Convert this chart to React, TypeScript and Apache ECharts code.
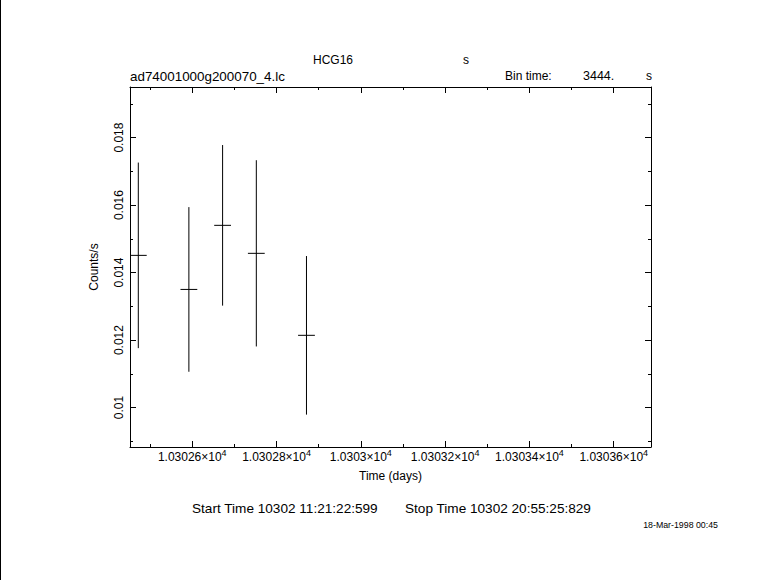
import React, { useEffect, useRef } from "react";
import * as echarts from "echarts";

// ---- data ----
const binCentres = [10302.472, 10302.592, 10302.672, 10302.752, 10302.871];
const rates = [0.01451, 0.0135, 0.0154, 0.01457, 0.01214];
const rateErrors = [0.00275, 0.00244, 0.00238, 0.00276, 0.00235];
const binTimeSec = 3444;

const xRange = [10302.4523, 10303.6884];
const yRange = [0.00883, 0.0195];

const xMajorTicks = [10302.6, 10302.8, 10303.0, 10303.2, 10303.4, 10303.6];
const xMajorLabels = ["1.03026", "1.03028", "1.0303", "1.03032", "1.03034", "1.03036"];
const xMinorTicks = [10302.5, 10302.7, 10302.9, 10303.1, 10303.3, 10303.5];
const yMajorTicks = [0.01, 0.012, 0.014, 0.016, 0.018];
const yMajorLabels = ["0.01", "0.012", "0.014", "0.016", "0.018"];
const yMinorTicks = [0.009, 0.011, 0.013, 0.015, 0.017, 0.019];

const FONT = "Liberation Sans, Arial, sans-serif";

function nearestLabel(v: number, ticks: number[], labels: string[]) {
  let best = 0;
  for (let i = 1; i < ticks.length; i++) {
    if (Math.abs(ticks[i] - v) < Math.abs(ticks[best] - v)) best = i;
  }
  return labels[best];
}

function xAxisDef(pos: string, ticks: number[], len: number, showLine: boolean, labels: boolean) {
  const ax: any = {
    type: "value",
    position: pos,
    min: xRange[0],
    max: xRange[1],
    axisLine: { show: showLine, onZero: false, lineStyle: { color: "#000", width: 1 } },
    axisTick: { show: true, inside: true, length: len, customValues: ticks, lineStyle: { color: "#000", width: 1 } },
    axisLabel: { show: false },
    splitLine: { show: false },
    minorTick: { show: false },
  };
  if (labels) {
    ax.axisLabel = {
      show: true,
      customValues: ticks,
      margin: 3,
      color: "#000",
      formatter: (v: number) => `{m|${nearestLabel(v, xMajorTicks, xMajorLabels)}×10}{e|4}`,
      rich: {
        m: { fontSize: 12, fontFamily: FONT, color: "#000", lineHeight: 14 },
        e: { fontSize: 9, fontFamily: FONT, color: "#000", lineHeight: 9, padding: [0, 0, 8, 0] },
      },
    };
    ax.name = "Time (days)";
    ax.nameLocation = "middle";
    ax.nameGap = 19;
    ax.nameTextStyle = { fontSize: 12, fontFamily: FONT, color: "#000" };
  }
  return ax;
}

function yAxisDef(pos: string, ticks: number[], len: number, showLine: boolean, labels: boolean) {
  const ax: any = {
    type: "value",
    position: pos,
    min: yRange[0],
    max: yRange[1],
    axisLine: { show: showLine, onZero: false, lineStyle: { color: "#000", width: 1 } },
    axisTick: { show: true, inside: true, length: len, customValues: ticks, lineStyle: { color: "#000", width: 1 } },
    axisLabel: { show: false },
    splitLine: { show: false },
    minorTick: { show: false },
  };
  if (labels) {
    ax.axisLabel = {
      show: true,
      customValues: ticks,
      rotate: 90,
      margin: 5,
      fontSize: 12,
      fontFamily: FONT,
      color: "#000",
      formatter: (v: number) => nearestLabel(v, yMajorTicks, yMajorLabels),
    };
    ax.name = "Counts/s";
    ax.nameLocation = "middle";
    ax.nameGap = 30;
    ax.nameTextStyle = { fontSize: 12, fontFamily: FONT, color: "#000" };
  }
  return ax;
}

function txt(text: string, x: number, y: number, size = 12, align = "left") {
  return {
    type: "text",
    x,
    y,
    silent: true,
    style: {
      text,
      font: `${size}px ${FONT}`,
      fill: "#000",
      align,
      verticalAlign: "middle",
      textAlign: align,
      textVerticalAlign: "middle",
    },
  };
}

export default function App() {
  const ref = useRef<HTMLDivElement>(null);

  useEffect(() => {
    if (!ref.current) return;
    const chart = echarts.init(ref.current, null, { renderer: "svg" });
    const data = binCentres.map((x, i) => [x, rates[i], rateErrors[i]]);
    const halfBin = binTimeSec / 86400 / 2;

    chart.setOption({
      animation: false,
      backgroundColor: "#fff",
      grid: { left: 130, top: 87, width: 521, height: 360, containLabel: false, outerBoundsMode: "none" },
      xAxis: [
        xAxisDef("bottom", xMajorTicks, 6, true, true),
        xAxisDef("bottom", xMinorTicks, 3, false, false),
        xAxisDef("top", xMajorTicks, 6, true, false),
        xAxisDef("top", xMinorTicks, 3, false, false),
      ],
      yAxis: [
        yAxisDef("left", yMajorTicks, 6, true, true),
        yAxisDef("left", yMinorTicks, 3, false, false),
        yAxisDef("right", yMajorTicks, 6, true, false),
        yAxisDef("right", yMinorTicks, 3, false, false),
      ],
      series: [
        {
          type: "custom",
          xAxisIndex: 0,
          yAxisIndex: 0,
          clip: true,
          encode: { x: 0, y: 1 },
          data,
          renderItem: (params: any, api: any) => {
            const x = api.value(0);
            const y = api.value(1);
            const e = api.value(2);
            const a = api.coord([x - halfBin, y]);
            const b = api.coord([x + halfBin, y]);
            const t = api.coord([x, y + e]);
            const u = api.coord([x, y - e]);
            const st = { stroke: "#000", lineWidth: 1 };
            return {
              type: "group",
              children: [
                { type: "line", shape: { x1: a[0], y1: a[1], x2: b[0], y2: b[1] }, style: st },
                { type: "line", shape: { x1: t[0], y1: t[1], x2: u[0], y2: u[1] }, style: st },
              ],
            };
          },
        },
      ],
      graphic: {
        elements: [
          { type: "rect", x: 0, y: 0, silent: true, shape: { width: 1, height: 580 }, style: { fill: "#000" } },
          txt("HCG16", 313, 60),
          txt("s", 463, 60),
          txt("ad74001000g200070_4.lc", 130, 76, 13.4),
          txt("Bin time:", 505, 76),
          txt("3444.", 583, 76, 12.5),
          txt("s", 646, 76),
          txt("Start Time 10302 11:21:22:599", 192, 508, 13.6),
          txt("Stop Time 10302 20:55:25:829", 405, 508, 13.6),
          txt("18-Mar-1998 00:45", 718, 525, 8.8, "right"),
        ],
      },
    });
    return () => chart.dispose();
  }, []);

  return (
    <div
      ref={ref}
      style={{ position: "fixed", left: 0, top: 0, width: 781, height: 580, background: "#fff" }}
    />
  );
}
